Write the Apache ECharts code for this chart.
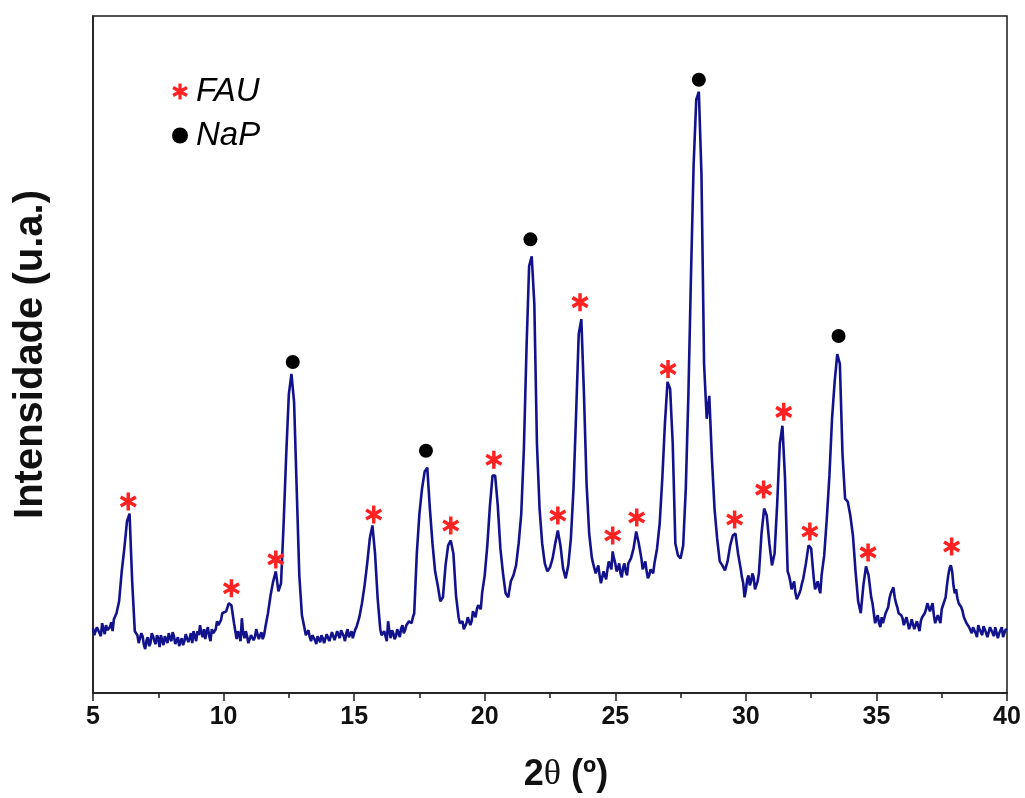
<!DOCTYPE html>
<html>
<head>
<meta charset="utf-8">
<title>DRX</title>
<script src="https://cdn.jsdelivr.net/npm/echarts@6/dist/echarts.min.js"></script>
<style>
  html, body { margin: 0; padding: 0; background: #fff; }
  #chart { width: 1025px; height: 798px; }
</style>
</head>
<body>
<div id="chart"></div>
<script>
// Diffractogram, main scan: [2θ (degrees), intensity (a.u.)]
const pattern = [
  [5.0,65],[5.1,60],[5.2,63],[5.3,57],[5.4,64],[5.5,68],[5.6,61],[5.7,71],[5.8,74],[5.9,80],
  [6.0,92],[6.1,122],[6.2,145],[6.3,172],[6.4,180],[6.5,112],[6.6,62],[6.7,58],[6.8,52],[6.9,57],
  [7.0,44],[7.1,56],[7.2,50],[7.3,57],[7.4,49],[7.5,55],[7.6,58],[7.7,48],[7.8,54],[7.9,60],
  [8.0,52],[8.1,57],[8.2,50],[8.3,47],[8.4,55],[8.5,52],[8.6,58],[8.7,55],[8.8,50],[8.9,57],
  [9.0,62],[9.1,68],[9.2,56],[9.3,54],[9.4,66],[9.5,52],[9.6,60],[9.7,64],[9.8,68],[9.9,73],
  [10.0,78],[10.1,82],[10.2,90],[10.3,88],[10.4,70],[10.5,54],[10.6,58],[10.7,75],[10.8,55],[10.9,57],
  [11.0,52],[11.1,60],[11.2,56],[11.3,62],[11.4,58],[11.5,54],[11.6,66],[11.7,80],[11.8,98],[11.9,112],
  [12.0,122],[12.1,102],[12.2,110],[12.3,170],[12.4,240],[12.5,300],[12.6,320],[12.7,292],[12.8,205],[12.9,118],
  [13.0,78],[13.1,65],[13.2,60],[13.3,56],[13.4,58],[13.5,53],[13.6,57],[13.7,51],[13.8,55],[13.9,52],
  [14.0,57],[14.1,54],[14.2,60],[14.3,55],[14.4,58],[14.5,63],[14.6,57],[14.7,60],[14.8,56],[14.9,62],
  [15.0,60],[15.1,67],[15.2,76],[15.3,90],[15.4,108],[15.5,130],[15.6,155],[15.7,168],[15.8,140],[15.9,95],
  [16.0,64],[16.1,56],[16.2,60],[16.3,72],[16.4,55],[16.5,60],[16.6,57],[16.7,62],[16.8,65],[16.9,60],
  [17.0,68],[17.1,72],[17.2,70],[17.3,80],[17.4,140],[17.5,180],[17.6,205],[17.7,222],[17.8,226],[17.9,185],
  [18.0,150],[18.1,122],[18.2,108],[18.3,92],[18.4,96],[18.5,128],[18.6,148],[18.7,153],[18.8,140],[18.9,98],
  [19.0,76],[19.1,68],[19.2,64],[19.3,70],[19.4,75],[19.5,72],[19.6,80],[19.7,84],[19.8,90],[19.9,100],
  [20.0,118],[20.1,148],[20.2,188],[20.3,218],[20.4,218],[20.5,188],[20.6,145],[20.7,120],[20.8,100],[20.9,96],
  [21.0,112],[21.1,118],[21.2,128],[21.3,150],[21.4,180],[21.5,245],[21.6,345],[21.7,428],[21.8,438],[21.9,390],
  [22.0,250],[22.1,185],[22.2,150],[22.3,130],[22.4,122],[22.5,126],[22.6,135],[22.7,150],[22.8,163],[22.9,148],
  [23.0,125],[23.1,115],[23.2,128],[23.3,155],[23.4,205],[23.5,280],[23.6,360],[23.7,375],[23.8,300],[23.9,210],
  [24.0,160],[24.1,136],[24.2,128],[24.3,124],[24.4,118],[24.5,112],[24.6,120],[24.7,124],[24.8,130],[24.9,142],
  [25.0,130],[25.1,125],[25.2,120],[25.3,126],[25.4,122],[25.5,130],[25.6,135],[25.7,145],[25.8,162],[25.9,150],
  [26.0,135],[26.1,128],[26.2,122],[26.3,118],[26.4,124],[26.5,130],[26.6,145],[26.7,170],[26.8,215],[26.9,270],
  [27.0,312],[27.1,305],[27.2,250],[27.3,150],[27.4,138],[27.5,135],[27.6,148],[27.7,205],[27.8,300],[27.9,420],
  [28.0,530],[28.1,595],[28.2,603],[28.3,520],[28.4,330],[28.5,275],[28.6,298],[28.7,235],[28.8,185],[28.9,155],
  [29.0,132],[29.1,128],[29.2,123],[29.3,132],[29.4,148],[29.5,158],[29.6,160],[29.7,140],[29.8,125],[29.9,110],
  [30.0,103],[30.1,118],[30.2,112],[30.3,116],[30.4,108],[30.5,120],[30.6,160],[30.7,185],[30.8,178],[30.9,150],
  [31.0,128],[31.1,140],[31.2,190],[31.3,250],[31.4,268],[31.5,215],[31.6,122],[31.7,112],[31.8,108],[31.9,100],
  [32.0,95],[32.1,104],[32.2,115],[32.3,130],[32.4,148],[32.5,145],[32.6,115],[32.7,108],[32.8,105],[32.9,118],
  [33.0,138],[33.1,175],[33.2,218],[33.3,275],[33.4,312],[33.5,340],[33.6,330],[33.7,240],[33.8,195],[33.9,192],
  [34.0,178],[34.1,158],[34.2,122],[34.3,92],[34.4,80],[34.5,108],[34.6,127],[34.7,118],[34.8,96],[34.9,80],
  [35.0,72],[35.1,70],[35.2,76],[35.3,72],[35.4,80],[35.5,95],[35.6,103],[35.7,96],[35.8,86],[35.9,82],
  [36.0,75],[36.1,70],[36.2,74],[36.3,68],[36.4,72],[36.5,66],[36.6,70],[36.7,72],[36.8,78],[36.9,84],
  [37.0,90],[37.1,86],[37.2,78],[37.3,72],[37.4,76],[37.5,84],[37.6,92],[37.7,108],[37.8,125],[37.9,122],
  [38.0,100],[38.1,95],[38.2,90],[38.3,82],[38.4,74],[38.5,70],[38.6,64],[38.7,66],[38.8,60],[38.9,68],
  [39.0,62],[39.1,67],[39.2,62],[39.3,58],[39.4,65],[39.5,57],[39.6,64],[39.7,60],[39.8,66],[39.9,58],
  [40.0,63]
];

// Intermediate readings in the noisy background stretches
const patternFine = [
  [5.05,58],[5.15,66],[5.25,61],[5.35,70],[5.45,59],[5.55,63],[5.65,66],[5.75,62],[5.85,76],
  [6.65,64],[6.75,50],[6.85,60],[6.95,48],[7.05,53],[7.15,47],[7.25,60],[7.35,52],[7.45,58],[7.55,46],
  [7.65,53],[7.75,57],[7.85,50],[7.95,55],[8.05,61],[8.15,49],[8.25,56],[8.35,52],[8.45,48],[8.55,59],
  [8.65,51],[8.75,60],[8.85,62],[8.95,52],[9.05,58],[9.15,60],[9.25,64],[9.35,62],[9.45,57],[9.55,64],
  [9.65,58],[9.75,72],[9.85,66],[9.95,80],
  [10.55,62],[10.65,52],[10.75,60],[10.85,62],[10.95,50],[11.05,58],[11.15,53],[11.25,64],[11.35,54],
  [11.45,61],[11.55,58],
  [13.15,58],[13.25,63],[13.35,52],[13.45,60],[13.55,49],[13.65,55],[13.75,58],[13.85,50],[13.95,59],
  [14.05,52],[14.15,61],[14.25,53],[14.35,62],[14.45,55],[14.55,60],[14.65,52],[14.75,64],[14.85,59],
  [14.95,55],[15.05,64],
  [16.05,58],[16.15,62],[16.25,52],[16.35,62],[16.45,63],[16.55,54],[16.65,64],[16.75,56],[16.85,68],
  [16.95,63],[17.05,66],[17.15,74],[17.25,76],
  [19.05,70],[19.15,72],[19.25,62],[19.35,76],[19.45,68],[19.55,82],[19.65,76],[19.75,88],[19.85,84],
  [24.15,130],[24.25,120],[24.35,128],[24.45,110],[24.55,122],[24.65,114],[24.75,132],[24.85,124],
  [24.95,135],[25.05,122],[25.15,130],[25.25,116],[25.35,130],[25.45,118],[25.55,128],
  [26.05,124],[26.15,132],[26.25,115],[26.35,124],[26.45,120],
  [29.85,116],[29.95,96],[30.05,114],[30.15,108],[30.25,120],[30.35,104],[30.45,112],
  [31.65,118],[31.75,104],[31.85,112],[31.95,94],[32.05,100],[32.15,110],
  [32.65,104],[32.75,112],[32.85,100],
  [34.85,90],[34.95,70],[35.05,78],[35.15,66],[35.25,70],[35.35,80],[35.45,86],[35.55,100],[35.65,106],
  [35.75,90],[35.85,80],[35.95,78],[36.05,68],[36.15,76],[36.25,64],[36.35,74],[36.45,64],[36.55,72],
  [36.65,62],[36.75,76],[36.85,80],[36.95,90],[37.05,82],[37.15,90],[37.25,70],[37.35,78],[37.45,70],
  [37.55,88],[37.65,96],[37.75,118],[37.85,128],[37.95,108],[38.05,104],[38.15,90],[38.25,86],[38.35,76],
  [38.45,70],[38.55,66],[38.65,60],[38.75,64],[38.85,56],[38.95,64],[39.05,58],[39.15,64],[39.25,56],
  [39.35,66],[39.45,60],[39.55,66],[39.65,55],[39.75,62],[39.85,56],[39.95,64]
];

// Phase markers placed just above the reflections they identify
const fauAngles  = [6.35, 10.3, 12.0, 15.75, 18.7, 20.35, 22.8, 23.65, 24.9, 25.82, 27.02, 29.57, 30.68, 31.45, 32.45, 34.68, 37.88];
const fauLevels  = [192, 105, 134, 179, 168, 234, 178, 392, 158, 176, 325, 174, 204, 282, 162, 141, 147];
const napAngles  = [12.65, 17.75, 21.75, 28.2, 33.55];
const napLevels  = [332, 243, 455, 615, 358];

const xTicks = { min: 5, max: 40, step: 5 };

// six-armed asterisk drawn as three crossing bars (same winding so they fill solid)
const asterisk = 'path://M-0.2,-1L0.2,-1L0.2,1L-0.2,1Z' +
  'M-0.966,-0.327L-0.766,-0.673L0.966,0.327L0.766,0.673Z' +
  'M0.766,-0.673L0.966,-0.327L-0.766,0.673L-0.966,0.327Z';

const trace = pattern.concat(patternFine).sort((a, b) => a[0] - b[0]);

const chart = echarts.init(document.getElementById('chart'), null, { renderer: 'canvas' });

chart.setOption({
  animation: false,
  backgroundColor: '#ffffff',
  grid: {
    left: 93, top: 16, right: 18, bottom: 103,
    show: true, borderColor: '#1a1a1a', borderWidth: 1.5, backgroundColor: 'transparent'
  },
  legend: {
    orient: 'vertical',
    left: 167, top: 70,
    itemWidth: 16, itemHeight: 16,
    itemGap: 11,
    textStyle: {
      fontFamily: 'Liberation Sans, Arial, sans-serif',
      fontStyle: 'italic', fontSize: 33, color: '#000',
      padding: [0, 0, 0, 3]
    },
    data: [
      { name: 'FAU', icon: asterisk, itemStyle: { color: '#ff2222', opacity: 1 } },
      { name: 'NaP', icon: 'circle', itemStyle: { color: '#000', opacity: 1 } }
    ]
  },
  xAxis: {
    type: 'value',
    min: xTicks.min, max: xTicks.max, interval: xTicks.step,
    axisLine: { show: true, onZero: false, lineStyle: { color: '#1a1a1a', width: 1.5 } },
    axisTick: { show: true, inside: false, length: 8, lineStyle: { color: '#1a1a1a', width: 1.5 } },
    minorTick: { show: true, splitNumber: 2, length: 5, lineStyle: { color: '#1a1a1a', width: 1.5 } },
    splitLine: { show: false },
    axisLabel: {
      margin: 12,
      fontFamily: 'Liberation Sans, Arial, sans-serif',
      fontWeight: 'bold', fontSize: 25, color: '#111'
    },
    name: '{b|2}{t|θ}{b| (º)}',
    nameLocation: 'middle',
    nameGap: 64,
    nameTextStyle: {
      padding: [0, 0, 0, 32],
      rich: {
        b: { fontFamily: 'Liberation Sans, Arial, sans-serif', fontWeight: 'bold', fontSize: 36, color: '#111' },
        t: { fontFamily: 'Liberation Serif, serif', fontWeight: 'normal', fontSize: 36, color: '#111' }
      }
    }
  },
  yAxis: {
    type: 'value',
    min: 0, max: 679,
    axisLine: { show: true, lineStyle: { color: '#1a1a1a', width: 1.5 } },
    axisTick: { show: false },
    axisLabel: { show: false },
    splitLine: { show: false },
    name: 'Intensidade (u.a.)',
    nameLocation: 'middle',
    nameGap: 42,
    nameRotate: 90,
    nameTextStyle: {
      fontFamily: 'Liberation Sans, Arial, sans-serif',
      fontWeight: 'bold', fontSize: 40, color: '#111'
    }
  },
  series: [
    {
      type: 'line',
      data: trace,
      showSymbol: false,
      symbol: 'none',
      smooth: false,
      lineStyle: { color: '#12128c', width: 2.6 },
      z: 2
    },
    {
      name: 'FAU',
      type: 'scatter',
      symbol: asterisk,
      symbolSize: [17, 18],
      itemStyle: { color: '#ff2222', opacity: 1 },
      data: fauAngles.map((a, i) => [a, fauLevels[i]]),
      z: 3
    },
    {
      name: 'NaP',
      type: 'scatter',
      symbol: 'circle',
      symbolSize: 14,
      itemStyle: { color: '#000', opacity: 1 },
      data: napAngles.map((a, i) => [a, napLevels[i]]),
      z: 3
    }
  ]
});
</script>
</body>
</html>
